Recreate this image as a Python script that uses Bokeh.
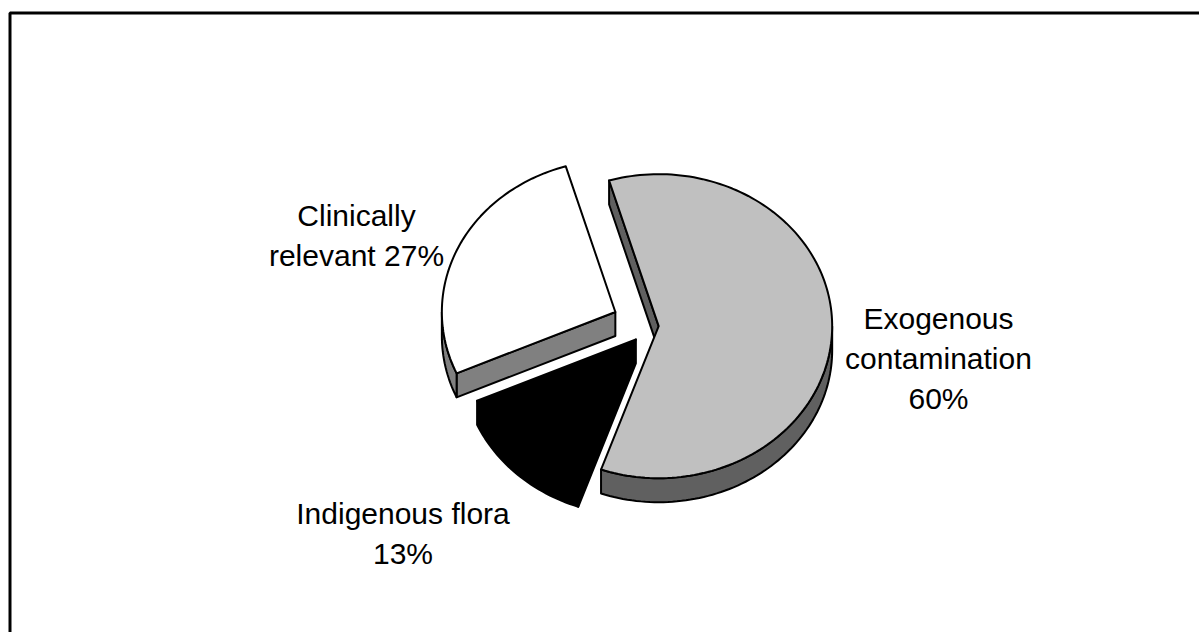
import numpy as np
from bokeh.plotting import figure
from bokeh.models import Range1d, ColumnDataSource
from bokeh.embed import file_html
from bokeh.resources import INLINE
from bokeh.core.properties import value

# ---------------- data ----------------
categories = ["Exogenous contamination", "Indigenous flora", "Clinically relevant"]
shares = [60, 13, 27]
label_templates = ["Exogenous\ncontamination\n{}%", "Indigenous flora\n{}%", "Clinically\nrelevant {}%"]

# ---------------- style / layout ----------------
top_colors = ["#C0C0C0", "#000000", "#FFFFFF"]
side_colors = ["#606060", "#000000", "#808080"]
explode = [0.05, 0.12, 0.22]
label_offsets = [(288.5, 32.5), (-247.0, 207.5), (-293.5, -90.5)]

W, H = 1199, 632
CX, CY = 649.5, 325.5
RX, RY = 173.5, 152.0
DEPTH = 24.0
START = 106.6          # degrees, first slice starts here, going clockwise
FONT = "Liberation Sans"
FONT_SIZE = "30px"
LINE_GAP = 40

p = figure(width=W, height=H, output_backend="svg", toolbar_location=None,
           x_range=Range1d(0, W), y_range=Range1d(H, 0),
           min_border=0, outline_line_color=None)
p.axis.visible = False
p.grid.visible = False
p.background_fill_color = "white"
p.border_fill_color = "white"

# chart-area frame (left and top visible in the reference)
p.line([9.5, 9.5, 1300], [700, 12.5, 12.5], line_color="black", line_width=3)


def arc(ox, oy, t0, t1, dy=0.0, n=None):
    if n is None:
        n = max(2, int(abs(t1 - t0) / 1.5) + 2)
    t = np.radians(np.linspace(t0, t1, n))
    return list(ox + RX * np.cos(t)), list(oy - RY * np.sin(t) + dy)


total = float(sum(shares))
slices = []
ang = START
for i, s in enumerate(shares):
    span = 360.0 * s / total
    b = ang            # ccw-most edge
    a = ang - span     # cw-most edge
    mid = (a + b) / 2
    ox = CX + explode[i] * RX * np.cos(np.radians(mid))
    oy = CY - explode[i] * RY * np.sin(np.radians(mid))
    slices.append(dict(i=i, a=a, b=b, mid=mid, ox=ox, oy=oy))
    ang = a

# painter's order: back first
order = sorted(slices, key=lambda d: -np.sin(np.radians(d["mid"])))

xs, ys, fills = [], [], []
for sl in order:
    i, a, b, ox, oy = sl["i"], sl["a"], sl["b"], sl["ox"], sl["oy"]
    side = side_colors[i]
    # radial faces
    for edge, vis in ((b, np.cos(np.radians(b)) < 0), (a, np.cos(np.radians(a)) > 0)):
        if vis:
            ex = ox + RX * np.cos(np.radians(edge))
            ey = oy - RY * np.sin(np.radians(edge))
            xs.append([ox, ex, ex, ox])
            ys.append([oy, ey, ey + DEPTH, oy + DEPTH])
            fills.append(side)
    # outer rim (front half, angles where sin < 0)
    for k0 in (-360, 0, 360):
        lo = max(a, k0 - 180)
        hi = min(b, k0)
        if hi > lo:
            tx, ty = arc(ox, oy, lo, hi)
            bx, by = arc(ox, oy, hi, lo, dy=DEPTH)
            xs.append(tx + bx)
            ys.append(ty + by)
            fills.append(side)
    # top face
    tx, ty = arc(ox, oy, a, b)
    xs.append([ox] + tx)
    ys.append([oy] + ty)
    fills.append(top_colors[i])

src = ColumnDataSource(dict(xs=xs, ys=ys, fill=fills))
p.patches("xs", "ys", source=src, fill_color="fill", line_color="black",
          line_width=2, line_join="round")

# labels
for i, tmpl in enumerate(label_templates):
    lines = tmpl.format(shares[i]).split("\n")
    ax, ay = CX + label_offsets[i][0], CY + label_offsets[i][1]
    n = len(lines)
    for j, ln in enumerate(lines):
        p.text(x=[ax], y=[ay + (j - (n - 1) / 2) * LINE_GAP], text=[ln],
               text_align="center", text_baseline="alphabetic",
               text_font=value(FONT), text_font_size=FONT_SIZE, text_color="black")

open("out.html", "w").write(file_html(p, INLINE))
